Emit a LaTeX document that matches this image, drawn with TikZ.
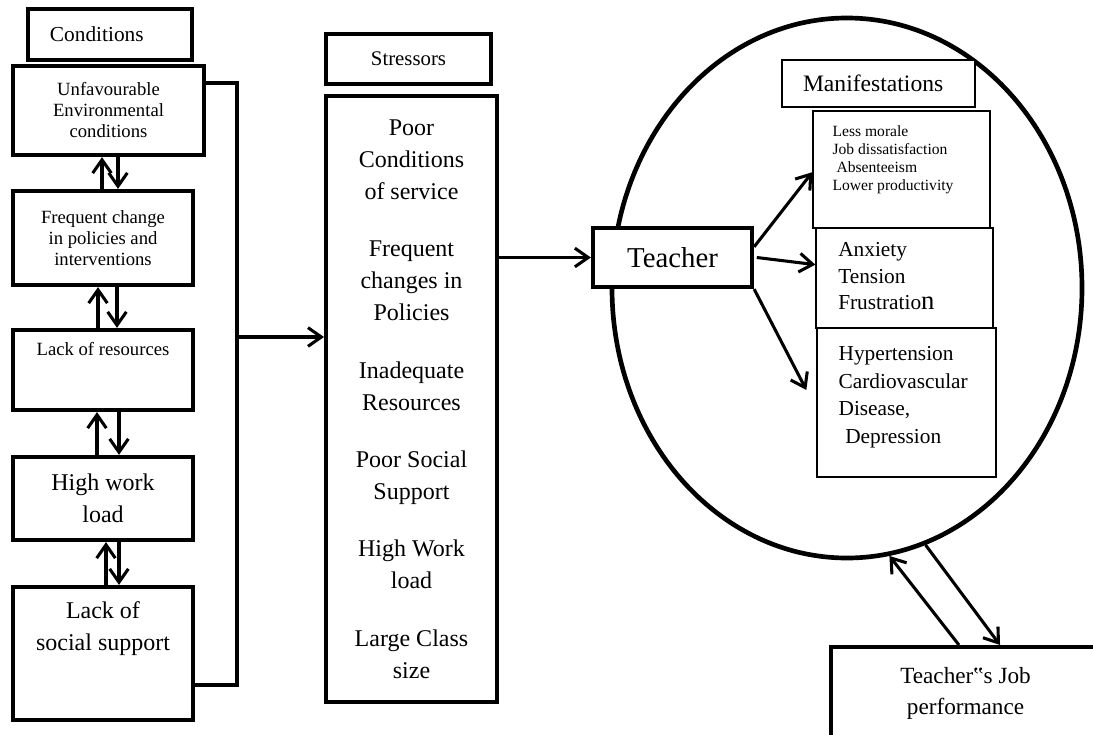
\documentclass[tikz,border=0pt]{standalone}
\usepackage{fontspec}
\setmainfont{Liberation Serif}
\usetikzlibrary{arrows.meta,shapes.geometric}

\begin{document}
\begin{tikzpicture}[x=0.75pt, y=-0.75pt,
        box/.style={draw, line width=3.2pt, align=center, inner sep=0pt, fill=white},
        headbox/.style={draw, line width=2.4pt, inner sep=0pt, fill=white},
        thinbox/.style={draw, line width=1pt, inner sep=0pt},
        linkline/.style={line width=2.8pt},
        arr/.style={line width=2.3pt, -{Straight Barb[length=10pt, width=14pt]}},
        smalltext/.style={font=\fontsize{14}{15.75}\selectfont},
        bigtext/.style={font=\fontsize{18}{24}\selectfont}]
        \useasboundingbox (0,0) rectangle (1093,735);

        % Conditions column
        \node[headbox, minimum height=38.25pt, text width=90pt, inner xsep=16.5pt, align=left,
            font=\fontsize{16}{18}\selectfont] (cond) at (110,34.5) {Conditions};
        \node[box, minimum width=143.25pt, minimum height=66.75pt, smalltext] (unfav) at (108.5,110.5)
            {Unfavourable\\Environmental\\conditions};
        \node[box, minimum width=135pt, minimum height=70.5pt, smalltext] (freq) at (103,238)
            {Frequent change\\in policies and\\interventions};
        \node[box, minimum width=135pt, minimum height=60pt,
            label={[anchor=north, yshift=-10.5pt, inner sep=0pt, smalltext]north:Lack of resources}] (lackres) at (103,370) {};
        \node[box, minimum width=135pt, minimum height=62.25pt, bigtext] (high) at (103,498.5)
            {High work\\load};
        \node[box, minimum width=135pt, minimum height=99.75pt,
            label={[anchor=north, yshift=-12pt, inner sep=0pt, align=center, bigtext]north:Lack of\\social support}] (social) at (103,653.5) {};

        % arrows between the conditions
        \foreach \upper/\lower/\ux/\dx in {unfav/freq/-0.75/11.25, freq/lackres/-3.75/10.5,
                lackres/high/-4.5/12, high/social/2.25/12}{
            \draw[arr] ([xshift=\ux pt]\lower.north) -- ([xshift=\ux pt]\lower.north |- \upper.south);
            \draw[arr] ([xshift=\dx pt]\lower.north |- \upper.south) -- ([xshift=\dx pt]\lower.north);
        }

        % Stressors column
        \node[headbox, minimum width=123.75pt, minimum height=37.5pt,
            font=\fontsize{15.6}{18}\selectfont] (strhead) at (408.5,59) {Stressors};
        \node[box, line width=3pt, minimum width=128.25pt, minimum height=454.5pt, bigtext] (stress) at (411.5,399)
            {Poor\\Conditions\\of service\\[19pt]Frequent\\changes in\\Policies\\[19pt]Inadequate\\Resources\\[19pt]%
             Poor Social\\Support\\[19pt]High Work\\load\\[19pt]Large Class\\size};

        % bracket from the conditions to the stressors
        \coordinate (brk) at (237,337);
        \draw[linkline] ([yshift=20.6pt]unfav.east) -| (brk) |- ([yshift=-23.6pt]social.east);
        \draw[arr] (brk) -- (brk -| stress.west);

        % Teacher inside the circle
        \node[draw, ellipse, line width=3.5pt, minimum width=352.5pt, minimum height=405pt, inner sep=0pt] (circ) at (847,288) {};
        \node[box, minimum width=119.25pt, minimum height=44.25pt,
            font=\fontsize{21.6}{26}\selectfont] (teacher) at (672.5,257.5) {Teacher};
        \draw[arr] (stress.east |- teacher.west) -- (teacher.west);

        % Manifestations
        \node[headbox, line width=2.2pt, minimum height=35.25pt, text width=113.25pt, inner xsep=15.75pt, align=left,
            font=\fontsize{17.7}{20}\selectfont] (manhead) at (878.5,83.5) {Manifestations};
        \node[thinbox, minimum width=132.75pt, minimum height=87.75pt,
            label={[anchor=north west, xshift=15pt, yshift=-11pt, inner sep=0pt, align=left,
                font=\fontsize{11.7}{13.5}\selectfont]north west:Less morale\\Job dissatisfaction\\\hspace*{3pt}Absenteeism\\Lower productivity}]
            (box1) at (901.5,169.5) {};
        \node[thinbox, minimum width=132.75pt, minimum height=75pt,
            label={[anchor=north west, xshift=17pt, yshift=-11pt, inner sep=0pt, align=left,
                font=\fontsize{16}{20}\selectfont]north west:Anxiety\\Tension\\Frustratio{\fontsize{20}{20}\selectfont n}}]
            (box2) at (904.5,278) {};
        \node[thinbox, minimum width=134.25pt, minimum height=111.75pt,
            label={[anchor=north west, xshift=16.5pt, yshift=-14pt, inner sep=0pt, align=left,
                font=\fontsize{16}{20.8}\selectfont]north west:Hypertension\\Cardiovascular\\Disease,\\\hspace*{5pt}Depression}]
            (box3) at (906.5,402.5) {};
        \draw[arr] ([yshift=8pt]teacher.east) -- ([yshift=-2pt]box1.west);
        \draw[arr] ([xshift=2pt]teacher.east) -- ([yshift=10pt]box2.west);
        \draw[arr] (teacher.south east) -- ([xshift=-7.5pt, yshift=9.4pt]box3.west);

        % Job performance
        \node[box, line width=3pt, minimum width=201.75pt, minimum height=69.75pt,
            font=\fontsize{17.4}{23}\selectfont] (job) at (965.5,693.5) {Teacher‟s Job\\performance};
        \draw[arr] ([xshift=-4.9pt]job.north) -- (circ.-81);
        \draw[arr] (circ.-73) -- ([xshift=25.9pt]job.north);
    \end{tikzpicture}
\end{document}
